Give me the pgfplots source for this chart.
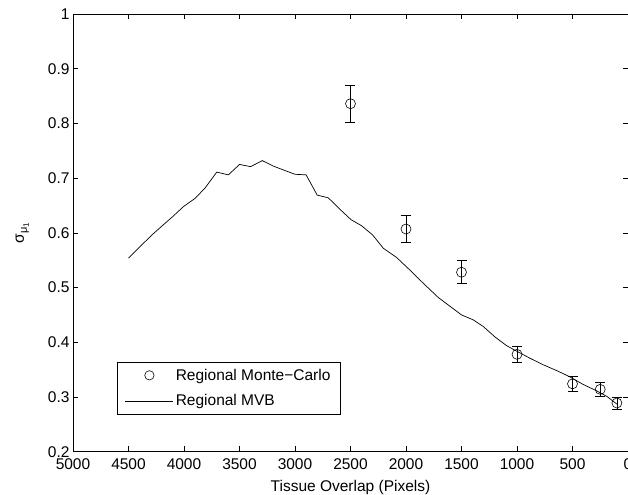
\documentclass[border=0pt]{standalone}
\usepackage{fontspec}
\setmainfont{Liberation Sans}
\usepackage{pgfplots}
\pgfplotsset{compat=1.18}
\newcommand{\lbl}{\fontsize{15.5bp}{18bp}\selectfont}
\begin{document}
\begin{tikzpicture}
\begin{axis}[
    scale only axis,
    width=555bp, height=437.7bp,
    x dir=reverse,
    xmin=0, xmax=5000,
    ymin=0.2, ymax=1,
    xtick={0,500,1000,1500,2000,2500,3000,3500,4000,4500,5000},
    ytick={0.2,0.3,0.4,0.5,0.6,0.7,0.8,0.9,1},
    scaled ticks=false,
    /pgf/number format/1000 sep={},
    /pgf/number format/assume math mode=true,
    tick align=inside,
    major tick length=5.3bp,
    axis line style={line width=0.8bp},
    tick style={line width=0.6bp, black},
    tick label style={font=\lbl},
    xticklabel style={yshift=-3bp},
    label style={font=\lbl},
    xlabel={Tissue Overlap (Pixels)},
    ylabel={σ\raisebox{-3bp}{\fontsize{11bp}{12bp}\selectfont μ\raisebox{-2bp}{\fontsize{8bp}{9bp}\selectfont 1}}},
    xlabel style={yshift=-4bp},
    ylabel style={yshift=12bp},
    legend style={
        at={(0.0787,0.0854)}, anchor=south west,
        draw=black, line width=0.8bp, font=\lbl,
        inner xsep=8bp, inner ysep=4.5bp,
        nodes={inner sep=2bp},
        row sep=9bp,
    },
    legend cell align=left,
]
\addplot[only marks, black, mark=o, mark size=5bp, line width=0.6bp,
    legend image code/.code={\draw[black, line width=0.6bp] (24bp,0bp) circle (4.7bp);},
    error bars/.cd, y dir=both, y explicit,
    error bar style={line width=0.6bp, black},
    error mark options={rotate=90, mark size=5bp, line width=0.6bp, black},
    ] table[x=x, y=y, y error=e] {
    x     y      e
    2500  0.836  0.034
    2000  0.607  0.025
    1500  0.528  0.021
    1000  0.378  0.015
    500   0.324  0.013
    250   0.314  0.012
    100   0.289  0.011
};
\addlegendentry{Regional Monte−Carlo}
\addplot[black, line width=0.7bp, mark=none,
    legend image code/.code={\draw[black, line width=0.7bp] (0bp,0bp) -- (48bp,0bp);},
    ] table {
    4500 0.554
    4410 0.572
    4290 0.596
    4190 0.614
    4100 0.630
    4005 0.648
    3900 0.663
    3810 0.682
    3705 0.711
    3600 0.706
    3500 0.725
    3400 0.721
    3295 0.732
    3195 0.722
    3105 0.715
    3000 0.707
    2900 0.706
    2800 0.669
    2700 0.664
    2595 0.643
    2495 0.624
    2400 0.613
    2300 0.596
    2205 0.572
    2085 0.555
    1965 0.532
    1845 0.508
    1710 0.482
    1605 0.466
    1500 0.450
    1395 0.441
    1305 0.429
    1200 0.410
    1095 0.394
    1005 0.384
    885  0.371
    765  0.359
    640  0.348
    525  0.337
    405  0.323
    280  0.311
    190  0.301
    100  0.287
};
\addlegendentry{Regional MVB}
\coordinate (ll) at (rel axis cs:0,0);
\coordinate (ur) at (rel axis cs:1,1);
\end{axis}
\pgfresetboundingbox
\path[use as bounding box] ([xshift=-73bp,yshift=-43.3bp]ll) rectangle ([yshift=14bp]ur);
\end{tikzpicture}
\end{document}
